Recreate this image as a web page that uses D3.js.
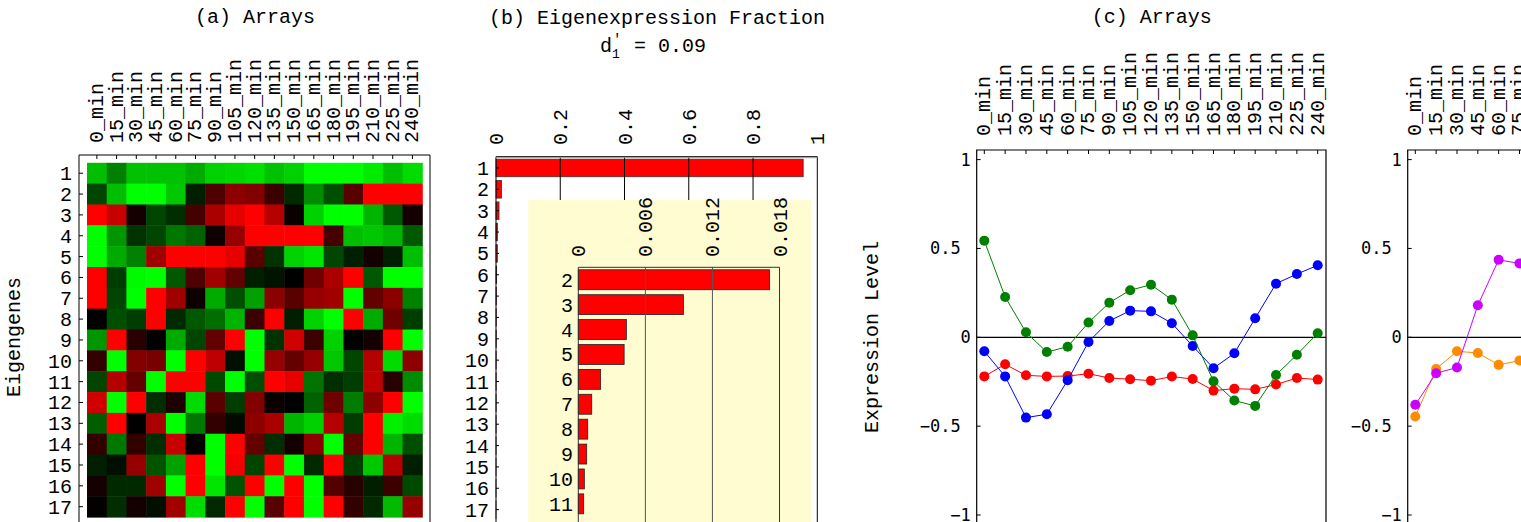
<!DOCTYPE html>
<html>
<head>
<meta charset="utf-8">
<script src="https://cdn.jsdelivr.net/npm/d3@7"></script>
<style>
  body { margin: 0; background: #fff; }
  svg { display: block; }
  text { font-family: "Liberation Mono", "DejaVu Sans Mono", monospace; fill: #000; }
</style>
</head>
<body>
<div id="chart"></div>
<script>
// data
var arrays = ["0_min","15_min","30_min","45_min","60_min","75_min","90_min","105_min","120_min",
  "135_min","150_min","165_min","180_min","195_min","210_min","225_min","240_min"];
var eigengenes = ["1","2","3","4","5","6","7","8","9","10","11","12","13","14","15","16","17"];

// heatmap: >0 red, <0 green
var heat = [
  [-0.75,-0.5,-0.76,-0.76,-0.76,-0.67,-0.82,-0.84,-0.88,-0.76,-0.82,-1,-1,-1,-0.92,-0.75,-0.86],
  [-0.27,-0.75,-1,-1,-0.78,-0.12,0.31,0.55,0.51,0.24,-0.16,-0.55,-0.31,0.35,1,1,1],
  [1,0.78,0.08,-0.27,-0.18,0.27,0.67,0.9,1,0.71,0.04,-0.82,-1,-1,-0.71,-0.35,0.08],
  [-1,-0.59,-0.2,-0.27,-0.47,-0.39,0.06,0.59,1,1,1,1,0.27,-0.75,-0.78,-0.71,-0.35],
  [-1,-0.67,-0.51,0.63,1,1,1,0.9,0.35,-0.2,-0.82,-0.9,-0.27,-0.12,0.08,-0.12,-0.75],
  [1,-0.24,-0.98,-1,-0.35,0.31,0.63,0.39,-0.12,-0.08,0,0.43,0.67,1,-0.35,-1,-1],
  [1,-0.27,-1,1,0.63,0.06,-0.67,-0.31,-0.63,0.55,0.35,0.59,0.63,-1,0.39,0.55,-0.51],
  [0,-0.31,-0.24,1,-0.16,-0.35,-0.43,-0.71,0.24,1,-0.12,-0.82,-1,1,-0.67,0.43,-0.24],
  [-0.59,1,0.16,0,-0.67,-0.27,0.39,1,-1,-0.2,0.82,0.24,-0.82,0,0.08,1,-1],
  [0.2,-1,0.51,0.47,-1,1,0.75,-0.06,-1,0.59,0.39,0.59,-0.78,-0.27,0.71,-0.86,0.55],
  [-0.27,0.71,0.39,-1,1,1,-0.29,-1,-0.31,1,0.9,-0.45,-0.18,-0.24,0.75,0.16,-0.55],
  [0.82,-1,1,-0.18,0.12,-0.86,0.35,-0.24,0.51,0.04,0,-0.39,0.43,-0.49,0.55,1,-1],
  [-0.37,1,0,0.67,-1,-0.47,0.2,-0.04,0.55,0.67,-0.71,-0.82,0.71,-0.24,1,-0.94,-0.86],
  [0.2,-0.47,0.2,-0.18,0.78,0,-1,1,0.39,-0.18,0.08,0.55,-1,0.39,1,-0.71,-0.31],
  [-0.12,-0.06,0.59,-0.33,-0.63,1,-1,0.96,-0.27,1,-1,-0.16,1,-0.24,-0.78,0.71,-0.12],
  [0.08,-0.16,-0.16,0.63,-1,1,-0.9,-0.33,1,-1,1,-1,0.33,0.16,-0.12,0.24,-0.29],
  [0.02,-0.18,0.08,-0.06,0.63,-0.86,-0.16,1,-1,0.35,1,-1,1,0.2,-0.16,-0.73,0.59]
];

// eigenexpression fractions
var fractions = [0.956,0.0171,0.0094,0.0043,0.0041,0.0020,0.0012,0.00084,0.00075,0.00054,0.00048,
  0.0004,0.0003,0.0002,0.0001,0.0001,0.00005];
var fracTicks = [0,0.2,0.4,0.6,0.8,1];
var insetRows = ["2","3","4","5","6","7","8","9","10","11"];
var insetTicks = [0,0.006,0.012,0.018];

// expression levels (c)
var green = [0.544,0.227,0.028,-0.083,-0.053,0.083,0.195,0.265,0.296,0.212,0.011,-0.248,-0.356,-0.386,-0.212,-0.098,0.023];
var blue = [-0.079,-0.220,-0.452,-0.433,-0.242,-0.026,0.092,0.150,0.146,0.079,-0.049,-0.174,-0.090,0.107,0.302,0.356,0.405];
var red = [-0.220,-0.152,-0.214,-0.220,-0.218,-0.205,-0.229,-0.236,-0.244,-0.221,-0.235,-0.300,-0.289,-0.293,-0.266,-0.229,-0.238];
// panel (d), only the visible part
var purple = [-0.380,-0.202,-0.170,0.180,0.436,0.416];
var orange = [-0.446,-0.178,-0.079,-0.088,-0.155,-0.131];
var levelTicks = [-1,-0.5,0,0.5,1];

var svg = d3.select("#chart").append("svg")
  .attr("width", 1521)
  .attr("height", 522);

function fmt(v) {
  return (v < 0 ? "\u2212" : "") + Math.abs(v);
}

// ---------- (a) heatmap ----------
var xA = d3.scaleBand().domain(arrays).range([87, 422.3]);
var yA = d3.scaleBand().domain(eigengenes).range([162.8, 517.1]);
var heatColor = d3.scaleLinear().domain([-1, 0, 1]).range(["#00ff00", "#000000", "#ff0000"]);

svg.append("text").attr("x", 255).attr("y", 23).attr("text-anchor", "middle")
  .style("font-size", "20px").text("(a) Arrays");

var gA = svg.append("g");
heat.forEach(function(row, i) {
  gA.selectAll(null).data(row).enter().append("rect")
    .attr("x", (d, j) => xA(arrays[j]))
    .attr("y", yA(eigengenes[i]))
    .attr("width", xA.bandwidth() + 0.5)
    .attr("height", yA.bandwidth() + 0.5)
    .attr("fill", d => heatColor(d));
});

gA.append("path").attr("d", "M79,530V155H430V530").attr("fill", "none").attr("stroke", "#000");
gA.selectAll(".tx").data(arrays).enter().append("line")
  .attr("x1", d => xA(d) + xA.bandwidth() / 2).attr("x2", d => xA(d) + xA.bandwidth() / 2)
  .attr("y1", 155).attr("y2", 159).attr("stroke", "#000");
gA.selectAll(".ty").data(eigengenes).enter().append("line")
  .attr("y1", d => yA(d) + yA.bandwidth() / 2).attr("y2", d => yA(d) + yA.bandwidth() / 2)
  .attr("x1", 79).attr("x2", 83).attr("stroke", "#000");
gA.selectAll(".cl").data(arrays).enter().append("text")
  .attr("transform", d => "translate(" + (xA(d) + xA.bandwidth() / 2 + 6) + ",143) rotate(-90)")
  .style("font-size", "20px").text(d => d);
gA.selectAll(".rl").data(eigengenes).enter().append("text")
  .attr("x", 72).attr("y", d => yA(d) + yA.bandwidth() / 2 + 7)
  .attr("text-anchor", "end").style("font-size", "20px").text(d => d);
svg.append("text").attr("transform", "translate(20,337) rotate(-90)").attr("text-anchor", "middle")
  .style("font-size", "20px").text("Eigengenes");

// ---------- (b) eigenexpression fraction ----------
var xB = d3.scaleLinear().domain([0, 1]).range([496, 817.3]);
var yB = d3.scaleBand().domain(eigengenes).range([157.3, 520.3]).paddingInner(0.18).paddingOuter(0.09);

svg.append("text").attr("x", 657).attr("y", 24).attr("text-anchor", "middle")
  .style("font-size", "20px").text("(b) Eigenexpression Fraction");
svg.append("text").attr("x", 600).attr("y", 52).style("font-size", "20px").text("d");
svg.append("text").attr("x", 613).attr("y", 44).style("font-size", "14px").text("\u2032");
svg.append("text").attr("x", 612).attr("y", 58).style("font-size", "13px").text("1");
svg.append("text").attr("x", 634).attr("y", 52).style("font-size", "20px").text("= 0.09");

var gB = svg.append("g");
gB.selectAll("rect").data(fractions).enter().append("rect")
  .attr("x", xB(0))
  .attr("y", (d, i) => yB(eigengenes[i]))
  .attr("width", d => xB(d) - xB(0))
  .attr("height", yB.bandwidth())
  .attr("fill", "#ff0000").attr("stroke", "#333").attr("stroke-width", 0.8);
gB.selectAll(".grid").data(fracTicks.slice(1, 5)).enter().append("line")
  .attr("x1", d => xB(d)).attr("x2", d => xB(d)).attr("y1", 157).attr("y2", 530)
  .attr("stroke", "#000");
gB.append("path").attr("d", "M" + xB(0) + ",530V156.7H" + xB(1) + "V530")
  .attr("fill", "none").attr("stroke", "#000");
gB.append("line").attr("x1", xB(0)).attr("x2", xB(1)).attr("y1", 157.7).attr("y2", 157.7)
  .attr("stroke", "#999");
gB.selectAll(".ty").data(eigengenes).enter().append("line")
  .attr("y1", d => yB(d) + yB.bandwidth() / 2).attr("y2", d => yB(d) + yB.bandwidth() / 2)
  .attr("x1", xB(0)).attr("x2", xB(0) + 3).attr("stroke", "#000");
gB.selectAll(".xl").data(fracTicks).enter().append("text")
  .attr("transform", d => "translate(" + (xB(d) + 7) + ",145) rotate(-90)")
  .style("font-size", "20px").text(d => d);
gB.selectAll(".rl").data(eigengenes).enter().append("text")
  .attr("x", 489).attr("y", d => yB(d) + yB.bandwidth() / 2 + 7)
  .attr("text-anchor", "end").style("font-size", "20px").text(d => d);

// inset
var xI = d3.scaleLinear().domain([0, 0.018]).range([578.3, 779.5]);
var yI = d3.scaleBand().domain(insetRows).range([267.3, 516.3]).paddingInner(0.2).paddingOuter(0.1);
var gI = svg.append("g");
gI.append("rect").attr("x", 528.3).attr("y", 200).attr("width", 282.7).attr("height", 340)
  .attr("fill", "#fffcd2");
gI.selectAll(".bar").data(insetRows).enter().append("rect")
  .attr("x", xI(0))
  .attr("y", d => yI(d))
  .attr("width", d => xI(fractions[+d - 1]) - xI(0))
  .attr("height", yI.bandwidth())
  .attr("fill", "#ff0000").attr("stroke", "#222").attr("stroke-width", 0.8);
gI.selectAll(".grid").data(insetTicks.slice(1, 3)).enter().append("line")
  .attr("x1", d => xI(d)).attr("x2", d => xI(d)).attr("y1", 267.3).attr("y2", 540)
  .attr("stroke", "#555");
gI.append("path").attr("d", "M" + xI(0) + ",540V267.3H" + xI(0.018) + "V540")
  .attr("fill", "none").attr("stroke", "#333");
gI.selectAll(".xl").data(insetTicks).enter().append("text")
  .attr("transform", d => "translate(" + (xI(d) + 7) + ",257) rotate(-90)")
  .style("font-size", "20px").text(d => d);
gI.selectAll(".rl").data(insetRows).enter().append("text")
  .attr("x", 573).attr("y", d => yI(d) + yI.bandwidth() / 2 + 7)
  .attr("text-anchor", "end").style("font-size", "20px").text(d => d);

// ---------- (c) / (d) expression levels ----------
function levelPanel(left, series, title) {
  var x = d3.scalePoint().domain(arrays).range([left + 7.6, left + 341]);
  var y = d3.scaleLinear().domain([-1, 1]).range([515, 159.6]);
  var g = svg.append("g");
  if (title) {
    g.append("text").attr("x", left + 175).attr("y", 23).attr("text-anchor", "middle")
      .style("font-size", "20px").text(title);
  }
  g.append("path").attr("d", "M" + left + ",540V150H" + (left + 349.3) + "V540")
    .attr("fill", "none").attr("stroke", "#000").attr("stroke-width", 1.2);
  g.selectAll(".tx").data(arrays).enter().append("line")
    .attr("x1", d => x(d)).attr("x2", d => x(d)).attr("y1", 150).attr("y2", 154).attr("stroke", "#000");
  g.selectAll(".ty").data(levelTicks).enter().append("line")
    .attr("x1", left).attr("x2", left + 4).attr("y1", d => y(d)).attr("y2", d => y(d)).attr("stroke", "#000");
  g.selectAll(".cl").data(arrays).enter().append("text")
    .attr("transform", d => "translate(" + (x(d) + 6) + ",136) rotate(-90)")
    .style("font-size", "20px").text(d => d);
  g.selectAll(".yl").data(levelTicks).enter().append("text")
    .attr("x", d => left - (Number.isInteger(d) ? 6 : 16))
    .attr("y", d => y(d) + 6)
    .attr("text-anchor", "end")
    .style("font-family", "'DejaVu Sans Mono', monospace")
    .style("font-size", "17px").text(fmt);
  g.append("line").attr("x1", left).attr("x2", left + 349.3).attr("y1", y(0)).attr("y2", y(0))
    .attr("stroke", "#000").attr("stroke-width", 1.3);

  var line = d3.line().x((d, i) => x(arrays[i])).y(d => y(d));
  series.forEach(function(s) {
    g.append("path").datum(s.values).attr("d", line)
      .attr("fill", "none").attr("stroke", s.color).attr("stroke-width", 1);
    g.selectAll(null).data(s.values).enter().append("circle")
      .attr("cx", (d, i) => x(arrays[i])).attr("cy", d => y(d)).attr("r", 5)
      .attr("fill", s.color);
  });
}

levelPanel(976.7, [
  { values: red, color: "#ff0000" },
  { values: blue, color: "#0000ff" },
  { values: green, color: "#008000" }
], "(c) Arrays");
svg.append("text").attr("transform", "translate(878,337) rotate(-90)").attr("text-anchor", "middle")
  .style("font-size", "20px").text("Expression Level");

levelPanel(1407.7, [
  { values: orange, color: "#ff8c00" },
  { values: purple, color: "#cc00ff" }
], null);
</script>
</body>
</html>
